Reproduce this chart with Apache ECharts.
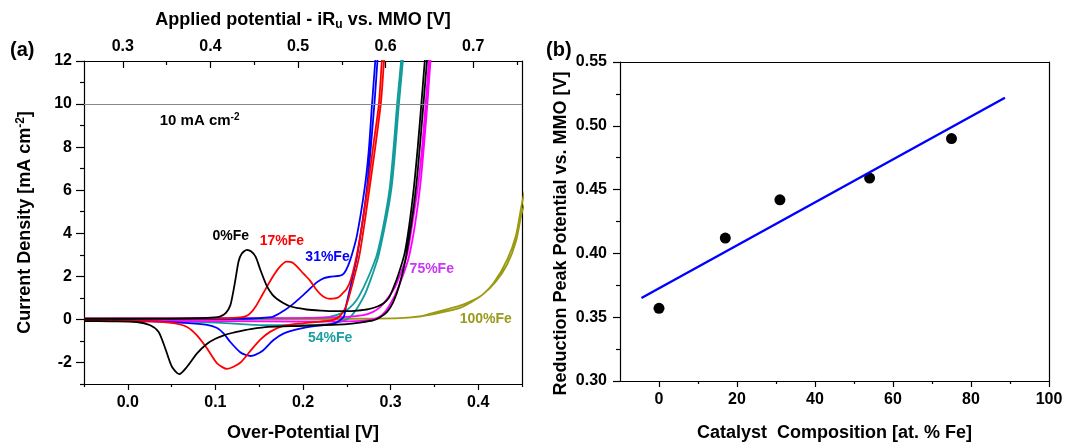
<!DOCTYPE html>
<html>
<head>
<meta charset="utf-8">
<script src="https://cdn.jsdelivr.net/npm/echarts@6/dist/echarts.min.js"></script>
<style>
  html, body { margin: 0; padding: 0; background: #fff; }
  #chart { width: 1074px; height: 447px; }
</style>
</head>
<body>
<div id="chart"></div>
<script>
// CV curves, [over-potential V, current density mA/cm2], anodic sweep then cathodic sweep
const fe0 = [
  [-0.05, 0.03], [0.0, 0.03], [0.05, 0.04], [0.09, 0.07], [0.105, 0.13], [0.112, 0.3], [0.117, 0.65],
  [0.12, 1.2], [0.123, 1.88], [0.1265, 2.7], [0.13, 3.05], [0.136, 3.23], [0.141, 3.15], [0.146, 2.9],
  [0.151, 2.34], [0.1585, 1.57], [0.165, 1.15], [0.17, 0.96], [0.178, 0.75], [0.185, 0.61], [0.195, 0.52],
  [0.204, 0.46], [0.22, 0.41], [0.235, 0.38], [0.25, 0.38], [0.262, 0.41], [0.275, 0.48], [0.285, 0.6],
  [0.292, 0.75], [0.298, 1.0], [0.3035, 1.5], [0.309, 2.1], [0.3158, 3.03], [0.321, 4.3], [0.3265, 6.1],
  [0.331, 8.0], [0.335, 9.95], [0.339, 12], [0.342, 13.5],
  [0.345, 13.5], [0.3415, 12], [0.3375, 10], [0.329, 6.1], [0.318, 3.0], [0.31, 1.6], [0.303, 0.8],
  [0.296, 0.35], [0.288, 0.1], [0.28, -0.05], [0.265, -0.15], [0.25, -0.22], [0.2, -0.3], [0.16, -0.35],
  [0.14, -0.45], [0.1325, -0.51], [0.12, -0.62], [0.1096, -0.74], [0.1, -0.9], [0.0905, -1.13],
  [0.079, -1.58], [0.0676, -2.2], [0.0588, -2.54], [0.0504, -2.2], [0.0428, -1.35], [0.0352, -0.58],
  [0.0256, -0.27], [0.0104, -0.12], [-0.02, -0.09], [-0.05, -0.08]
];
const fe17 = [
  [-0.05, 0.04], [0.05, 0.04], [0.1, 0.05], [0.125, 0.08], [0.135, 0.15], [0.1402, 0.3], [0.146, 0.6],
  [0.1517, 1.0], [0.1585, 1.5], [0.1662, 2.03], [0.173, 2.42], [0.1814, 2.68], [0.1875, 2.65], [0.1929, 2.46],
  [0.2, 2.15], [0.208, 1.8], [0.214, 1.45], [0.2195, 1.19], [0.225, 1.02], [0.231, 0.96], [0.2365, 0.98],
  [0.2405, 1.03], [0.245, 1.2], [0.25, 1.42], [0.255, 1.9], [0.2616, 3.03], [0.267, 4.3], [0.2738, 6.1],
  [0.28, 8.0], [0.2866, 10], [0.29, 12], [0.293, 13.5],
  [0.296, 13.5], [0.2925, 12], [0.2888, 10], [0.276, 6.1], [0.2645, 3.0], [0.2555, 1.5], [0.249, 0.6],
  [0.243, 0.2], [0.235, -0.02], [0.22, -0.1], [0.2, -0.18], [0.1776, -0.3], [0.1623, -0.58], [0.151, -0.95],
  [0.1402, -1.45], [0.1287, -2.0], [0.1134, -2.3], [0.102, -2.04], [0.0905, -1.35], [0.079, -0.74],
  [0.0676, -0.35], [0.0523, -0.17], [0.0256, -0.09], [-0.05, -0.05]
];
const fe31 = [
  [-0.05, 0.02], [0.05, 0.02], [0.1, 0.02], [0.13, 0.03], [0.15, 0.06], [0.166, 0.13], [0.178, 0.4],
  [0.1867, 0.65], [0.1967, 1.0], [0.206, 1.35], [0.2157, 1.72], [0.224, 1.92], [0.231, 1.98], [0.2424, 2.03],
  [0.247, 2.15], [0.2515, 2.5], [0.2558, 3.0], [0.2616, 3.9], [0.2704, 6.1], [0.275, 7.8], [0.2788, 10],
  [0.2825, 12], [0.285, 13.5],
  [0.288, 13.5], [0.285, 12], [0.2815, 10], [0.273, 6.1], [0.262, 3.0], [0.254, 1.5], [0.249, 0.6],
  [0.2462, 0.1], [0.2348, -0.2], [0.2157, -0.3], [0.1967, -0.43], [0.1776, -0.66], [0.166, -0.97],
  [0.1547, -1.43], [0.1455, -1.65], [0.1402, -1.7], [0.1345, -1.65], [0.1287, -1.54], [0.117, -1.05],
  [0.1096, -0.66], [0.102, -0.4], [0.0905, -0.25], [0.064, -0.16], [0.0256, -0.09], [-0.05, -0.06]
];
const fe54 = [
  [-0.05, 0.03], [0.1, 0.03], [0.2, 0.06], [0.23, 0.12], [0.245, 0.3], [0.254, 0.57], [0.262, 0.95],
  [0.2693, 1.5], [0.277, 2.2], [0.2845, 3.03], [0.292, 4.4], [0.299, 6.1], [0.3035, 8], [0.3074, 10],
  [0.312, 12], [0.315, 13.5],
  [0.317, 13.5], [0.314, 12], [0.3095, 10], [0.301, 6.1], [0.2865, 3.0], [0.2785, 2.0], [0.271, 1.2],
  [0.263, 0.6], [0.256, 0.2], [0.25, 0.0], [0.24, -0.13], [0.23, -0.22], [0.2, -0.27], [0.16, -0.27],
  [0.13, -0.22], [0.1, -0.15], [0.05, -0.08], [-0.05, -0.05]
];
const fe75 = [
  [-0.05, 0.04], [0.1, 0.05], [0.2, 0.07], [0.25, 0.12], [0.269, 0.2], [0.28, 0.35], [0.288, 0.57],
  [0.297, 1.0], [0.305, 1.5], [0.312, 2.2], [0.319, 3.03], [0.325, 4.5], [0.331, 6.1], [0.336, 8],
  [0.34, 10], [0.3436, 12], [0.346, 13.5],
  [0.349, 13.5], [0.3455, 12], [0.342, 10], [0.3335, 6.1], [0.3215, 3.0], [0.308, 1.4], [0.298, 0.6],
  [0.29, 0.2], [0.28, 0.0], [0.26, -0.08], [0.2, -0.1], [0.1, -0.08], [-0.05, -0.06]
];
const fe100 = [
  [-0.05, 0.03], [0.1, 0.03], [0.2, 0.03], [0.28, 0.04], [0.31, 0.06], [0.33, 0.12], [0.3494, 0.25],
  [0.365, 0.38], [0.38, 0.55], [0.392, 0.8], [0.405, 1.15], [0.4182, 1.72], [0.4334, 2.8], [0.443, 3.88],
  [0.45, 5.4], [0.455, 6.2],
  [0.456, 5.7], [0.45, 5.0], [0.443, 3.6], [0.433, 2.55], [0.42, 1.75], [0.405, 1.15], [0.392, 0.85],
  [0.38, 0.65], [0.365, 0.48], [0.35, 0.32], [0.335, 0.15], [0.31, 0.06], [0.2, 0.0], [0.1, -0.02],
  [-0.05, -0.03]
];

// panel (b)
const feContent = [0, 17, 31, 54, 75];
const peakPotential = [0.357, 0.412, 0.442, 0.459, 0.490];
const fitLine = [[-4.5, 0.365], [88.7, 0.522]];

// tick values
const overTicks = [0, 0.1, 0.2, 0.3, 0.4];
const overMinor = [-0.05, 0.05, 0.15, 0.25, 0.35, 0.45];
const appliedTicks = [0.3, 0.4, 0.5, 0.6, 0.7];
const appliedMinor = [0.35, 0.45, 0.55, 0.65, 0.75];
const currentTicks = [-2, 0, 2, 4, 6, 8, 10, 12];
const currentMinor = [-3, -1, 1, 3, 5, 7, 9, 11];
const compTicks = [0, 20, 40, 60, 80, 100];
const compMinor = [10, 30, 50, 70, 90];

const appliedOffset = 0.3057;
const FONT = '"Liberation Sans", Arial, sans-serif';
const lineBlack = { show: true, onZero: false, lineStyle: { color: '#000', width: 1.2 } };
const tickLabel = { fontFamily: FONT, fontSize: 16, fontWeight: 'bold', color: '#000' };
const nameStyle = { fontFamily: FONT, fontSize: 18, fontWeight: 'bold', color: '#000' };

function minorAxis(base, values, len, inside) {
  return Object.assign({}, base, {
    name: '', axisLine: { show: false, onZero: false }, axisLabel: { show: false }, splitLine: { show: false },
    axisTick: { show: true, inside: !!inside, length: len, customValues: values, lineStyle: { color: '#000', width: 1.2 } }
  });
}
function borderAxis(gridIndex, position, min, max) {
  return {
    type: 'value', gridIndex, position, min, max,
    axisLine: lineBlack, axisTick: { show: false }, axisLabel: { show: false }, splitLine: { show: false }
  };
}
function annot(text, coord, color, extra) {
  return {
    coord, value: 0,
    label: Object.assign({
      show: true, position: 'inside', formatter: text, color,
      fontFamily: FONT, fontSize: 14, fontWeight: 'bold'
    }, extra || {})
  };
}
function cvSeries(data, color, labels) {
  return {
    type: 'line', xAxisIndex: 0, yAxisIndex: 0, data, showSymbol: false, smooth: 0.25,
    lineStyle: { color, width: 1.8 }, itemStyle: { color }, clip: true, silent: true,
    markPoint: labels ? {
      symbol: 'circle', symbolSize: 1, itemStyle: { color: 'rgba(0,0,0,0)' }, silent: true, data: labels
    } : undefined
  };
}

const xOver = {
  type: 'value', gridIndex: 0, position: 'bottom', min: -0.05, max: 0.45,
  axisLine: lineBlack, splitLine: { show: false },
  axisTick: { show: true, length: 6, customValues: overTicks, lineStyle: { color: '#000', width: 1.2 } },
  axisLabel: Object.assign({ customValues: overTicks, margin: 11, formatter: (v) => v.toFixed(1) }, tickLabel),
  name: 'Over-Potential [V]', nameLocation: 'middle', nameGap: 40, nameTextStyle: nameStyle
};
const xApplied = {
  type: 'value', gridIndex: 0, position: 'top',
  min: -0.05 + appliedOffset, max: 0.45 + appliedOffset,
  axisLine: lineBlack, splitLine: { show: false },
  axisTick: { show: true, inside: true, length: 7, customValues: appliedTicks, lineStyle: { color: '#000', width: 1.2 } },
  axisLabel: Object.assign({ customValues: appliedTicks, margin: 6, formatter: (v) => v.toFixed(1) }, tickLabel),
  name: 'Applied potential - iR{sub|u} vs. MMO [V]', nameLocation: 'middle', nameGap: 30,
  nameTextStyle: Object.assign({
    rich: { sub: { fontFamily: FONT, fontSize: 12, fontWeight: 'bold', color: '#000', padding: [9, 0, 0, 0] } }
  }, nameStyle)
};
const yCurrent = {
  type: 'value', gridIndex: 0, position: 'left', min: -3, max: 12,
  axisLine: lineBlack, splitLine: { show: false },
  axisTick: { show: true, length: 8, customValues: currentTicks, lineStyle: { color: '#000', width: 1.2 } },
  axisLabel: Object.assign({ customValues: currentTicks, margin: 12 }, tickLabel),
  name: 'Current Density [mA cm{sup|-2}]', nameLocation: 'middle', nameGap: 48,
  nameTextStyle: Object.assign({
    rich: { sup: { fontFamily: FONT, fontSize: 12, color: '#000', padding: [0, 0, 9, 0] } }
  }, nameStyle)
};
const xComp = {
  type: 'value', gridIndex: 1, position: 'bottom', min: -10, max: 100,
  axisLine: lineBlack, splitLine: { show: false },
  axisTick: { show: true, length: 6, customValues: compTicks, lineStyle: { color: '#000', width: 1.2 } },
  axisLabel: Object.assign({ customValues: compTicks, margin: 11 }, tickLabel),
  name: 'Catalyst  Composition [at. % Fe]', nameLocation: 'middle', nameGap: 43, nameTextStyle: nameStyle
};
const yPeak = {
  type: 'value', gridIndex: 1, position: 'left', min: 0.3, max: 0.55, interval: 0.05,
  axisLine: lineBlack, splitLine: { show: false },
  axisTick: { show: true, length: 7, lineStyle: { color: '#000', width: 1.2 } },
  minorTick: { show: true, splitNumber: 2, length: 4, lineStyle: { color: '#000', width: 1.2 } },
  axisLabel: Object.assign({ margin: 13, formatter: (v) => v.toFixed(2) }, tickLabel),
  name: 'Reduction Peak Potential vs. MMO [V]', nameLocation: 'middle', nameGap: 50,
  // push the rotated title a little downwards, as in the source figure
  nameTextStyle: Object.assign({ padding: [0, 24, 0, 0] }, nameStyle)
};

const chart = echarts.init(document.getElementById('chart'), null, { renderer: 'canvas' });
chart.setOption({
  animation: false,
  backgroundColor: '#fff',
  textStyle: { fontFamily: FONT },
  grid: [
    { left: 84, top: 61, width: 438, height: 324 },
    { left: 620, top: 62, width: 429, height: 326 }
  ],
  xAxis: [
    xOver,
    minorAxis(xOver, overMinor, 3),
    xApplied,
    minorAxis(xApplied, appliedMinor, 4, true),
    xComp,
    minorAxis(xComp, compMinor, 3),
    borderAxis(1, 'top', -10, 100)
  ],
  yAxis: [
    yCurrent,
    minorAxis(yCurrent, currentMinor, 4),
    borderAxis(0, 'right', -3, 12),
    yPeak,
    borderAxis(1, 'right', 0.3, 0.55)
  ],
  graphic: [
    { type: 'text', left: 10, top: 40, style: { text: '(a)', fontFamily: FONT, fontSize: 20, fontWeight: 'bold', fill: '#000' } },
    { type: 'text', left: 546, top: 40, style: { text: '(b)', fontFamily: FONT, fontSize: 20, fontWeight: 'bold', fill: '#000' } }
  ],
  series: [
    cvSeries(fe100, '#9c9a12', [annot('100%Fe', [0.4086, -0.01], '#9a9a1c')]),
    cvSeries(fe54, '#129c9c', [annot('54%Fe', [0.231, -0.89], '#1a9e9e')]),
    cvSeries(fe75, '#ff00ff', [annot('75%Fe', [0.347, 2.34], '#c837f5')]),
    cvSeries(fe31, '#0000ff', [annot('31%Fe', [0.228, 2.89], '#0000ff')]),
    cvSeries(fe17, '#ff0000', [annot('17%Fe', [0.176, 3.63], '#ff0000')]),
    Object.assign(cvSeries(fe0, '#000000', [
      annot('0%Fe', [0.1176, 3.86], '#000'),
      annot('10 mA cm{sup|-2}', [0.082, 9.2], '#000', {
        fontSize: 15,
        rich: { sup: { fontFamily: FONT, fontSize: 10, fontWeight: 'bold', color: '#000', padding: [0, 0, 8, 0] } }
      })
    ]), {
      markLine: {
        silent: true, symbol: 'none', label: { show: false },
        lineStyle: { color: '#888', width: 1, type: 'solid' },
        data: [{ yAxis: 10 }]
      }
    }),
    {
      type: 'line', xAxisIndex: 4, yAxisIndex: 3, data: fitLine, showSymbol: false,
      lineStyle: { color: '#0000ff', width: 2.4 }, silent: true
    },
    {
      type: 'scatter', xAxisIndex: 4, yAxisIndex: 3,
      data: feContent.map((x, i) => [x, peakPotential[i]]),
      symbolSize: 11, itemStyle: { color: '#000', opacity: 1 }, silent: true
    }
  ]
});
</script>
</body>
</html>
